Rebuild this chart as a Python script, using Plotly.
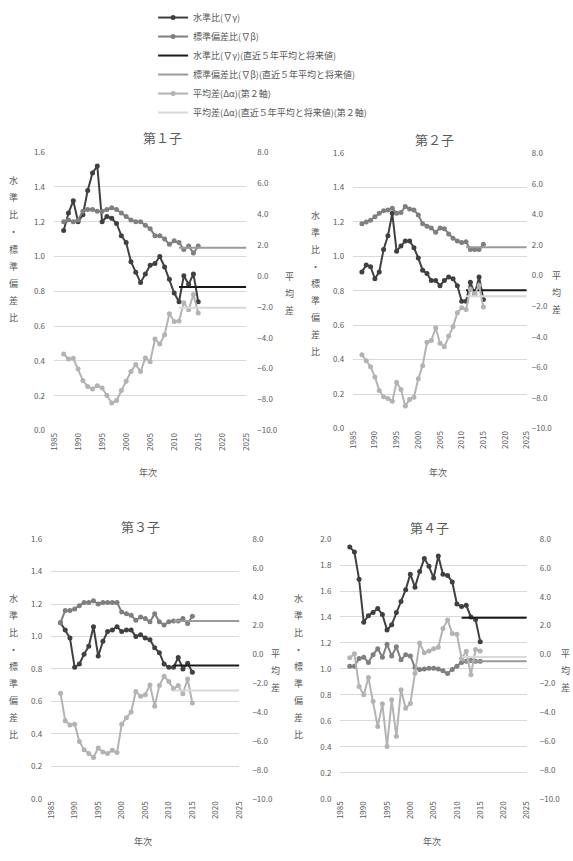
import plotly.graph_objects as go

# ---------------- data ----------------
years = [1987, 1988, 1989, 1990, 1991, 1992, 1993, 1994, 1995, 1996,
         1997, 1998, 1999, 2000, 2001, 2002, 2003, 2004, 2005, 2006,
         2007, 2008, 2009, 2010, 2011, 2012, 2013, 2014, 2015]
recent_years = [2011, 2025]

titles = ["第１子", "第２子", "第３子", "第４子"]

# 第1子
level_1 = [1.15, 1.25, 1.32, 1.20, 1.24, 1.38, 1.48, 1.52, 1.20, 1.23,
           1.22, 1.19, 1.12, 1.08, 0.97, 0.91, 0.85, 0.90, 0.95, 0.96,
           1.00, 0.94, 0.87, 0.79, 0.74, 0.89, 0.84, 0.90, 0.74]
sd_1 = [1.20, 1.21, 1.20, 1.21, 1.26, 1.27, 1.27, 1.26, 1.26, 1.27,
        1.28, 1.27, 1.25, 1.23, 1.21, 1.20, 1.20, 1.18, 1.16, 1.12,
        1.12, 1.10, 1.07, 1.09, 1.08, 1.04, 1.06, 1.02, 1.06]
mean_1 = [-5.05, -5.38, -5.33, -6.02, -6.77, -7.16, -7.31, -7.10, -7.25, -7.74,
          -8.22, -8.06, -7.42, -6.82, -6.19, -5.74, -6.19, -5.31, -5.55, -4.09,
          -4.41, -3.81, -2.45, -2.95, -2.92, -1.74, -2.20, -1.20, -2.40]
recent_1 = {"level": 0.825, "sd": 1.05, "mean": -2.06}

# 第2子
level_2 = [0.91, 0.95, 0.94, 0.87, 0.91, 1.04, 1.12, 1.25, 1.03, 1.06,
           1.09, 1.09, 1.05, 0.99, 0.92, 0.90, 0.86, 0.86, 0.83, 0.86,
           0.88, 0.87, 0.83, 0.74, 0.74, 0.85, 0.78, 0.88, 0.75]
sd_2 = [1.19, 1.20, 1.21, 1.23, 1.25, 1.265, 1.27, 1.28, 1.25, 1.255,
        1.29, 1.275, 1.27, 1.24, 1.19, 1.175, 1.165, 1.14, 1.165, 1.16,
        1.13, 1.105, 1.09, 1.08, 1.085, 1.04, 1.04, 1.04, 1.07]
mean_2 = [-5.18, -5.57, -5.96, -6.63, -7.51, -7.92, -8.03, -8.21, -6.97, -7.45,
          -8.53, -8.10, -7.95, -6.74, -5.89, -4.36, -4.25, -3.41, -4.42, -4.66,
          -3.95, -3.34, -2.43, -2.11, -2.22, -0.90, -1.20, -0.65, -2.05]
recent_2 = {"level": 0.804, "sd": 1.053, "mean": -1.35}

# 第3子
level_3 = [1.085, 1.04, 0.99, 0.81, 0.83, 0.89, 0.94, 1.06, 0.88, 0.97,
           1.03, 1.04, 1.06, 1.03, 1.04, 1.04, 1.00, 1.01, 0.99, 0.98,
           0.93, 0.90, 0.83, 0.81, 0.81, 0.87, 0.80, 0.835, 0.78]
sd_3 = [1.085, 1.16, 1.16, 1.17, 1.19, 1.21, 1.21, 1.22, 1.20, 1.21,
        1.21, 1.21, 1.21, 1.15, 1.14, 1.13, 1.10, 1.12, 1.11, 1.09,
        1.14, 1.09, 1.07, 1.09, 1.095, 1.095, 1.11, 1.08, 1.125]
mean_3 = [-2.68, -4.60, -4.88, -4.83, -6.03, -6.60, -6.87, -7.14, -6.49, -6.76,
          -6.87, -6.64, -6.80, -4.83, -4.38, -3.99, -2.56, -2.90, -2.79, -2.11,
          -3.58, -2.15, -1.50, -1.88, -2.38, -2.15, -2.72, -1.70, -3.36]
recent_3 = {"level": 0.821, "sd": 1.095, "mean": -2.49}

# 第4子
level_4 = [1.94, 1.90, 1.69, 1.36, 1.41, 1.435, 1.465, 1.42, 1.30, 1.34,
           1.435, 1.52, 1.61, 1.73, 1.63, 1.75, 1.85, 1.79, 1.70, 1.87,
           1.73, 1.72, 1.67, 1.50, 1.48, 1.49, 1.40, 1.38, 1.21]
sd_4 = [1.02, 1.02, 1.08, 1.09, 1.05, 1.11, 1.155, 1.09, 1.19, 1.10,
        1.17, 1.07, 1.11, 1.10, 1.01, 0.995, 1.00, 1.005, 1.005, 1.00,
        0.985, 0.965, 0.995, 1.02, 1.05, 1.06, 1.065, 1.06, 1.06]
mean_4 = [-0.22, 0.05, -2.22, -2.79, -1.60, -3.24, -5.00, -3.42, -6.37, -3.13,
          -5.67, -2.45, -3.72, -3.40, -1.30, 0.80, 0.12, 0.25, 0.40, 0.50,
          1.80, 2.40, 1.45, 1.40, -0.28, 0.23, -1.40, 0.34, 0.25]
recent_4 = {"level": 1.394, "sd": 1.059, "mean": -0.18}

left_ranges = [[0, 1.6], [0, 1.6], [0, 1.6], [0, 2.0]]
right_range = [-10, 8]

names = ["水準比(∇γ)", "標準偏差比(∇β)",
         "水準比(∇γ)(直近５年平均と将来値)", "標準偏差比(∇β)(直近５年平均と将来値)",
         "平均差(Δα)(第２軸)", "平均差(Δα)(直近５年平均と将来値)(第２軸)"]

panels = [
    (level_1, sd_1, mean_1, recent_1),
    (level_2, sd_2, mean_2, recent_2),
    (level_3, sd_3, mean_3, recent_3),
    (level_4, sd_4, mean_4, recent_4),
]

# ---------------- styling / layout ----------------
W, H = 573, 861
FONT = "Noto Sans CJK JP"
C_LEVEL = "#404040"
C_SD = "#7f7f7f"
C_LEVEL_R = "#1a1a1a"
C_SD_R = "#9a9a9a"
C_MEAN = "#b3b3b3"
C_MEAN_R = "#d9d9d9"
TXT = "#595959"
GRID = "#d9d9d9"

# plot-area pixel boxes: (left, right, top, bottom)
boxes = [(49, 245, 148, 430), (354, 531, 149, 428),
         (46, 238, 540, 803), (341, 531, 540, 803)]
right_standoff = [10, 4, 12, 12]


def fx(p):
    return p / W


def fy(p):
    return 1 - p / H


fig = go.Figure()

for i, (lvl, sd, mn, rec) in enumerate(panels):
    xa = "x" if i == 0 else f"x{i+1}"
    yl = "y" if i == 0 else f"y{2*i+1}"
    yr = f"y{2*i+2}"
    show = (i == 0)
    mk = dict(size=5)
    fig.add_trace(go.Scatter(x=years, y=lvl, mode="lines+markers", name=names[0],
                             line=dict(color=C_LEVEL, width=2), marker=dict(color=C_LEVEL, **mk),
                             xaxis=xa, yaxis=yl, showlegend=show, legendrank=1))
    fig.add_trace(go.Scatter(x=years, y=sd, mode="lines+markers", name=names[1],
                             line=dict(color=C_SD, width=2), marker=dict(color=C_SD, **mk),
                             xaxis=xa, yaxis=yl, showlegend=show, legendrank=2))
    fig.add_trace(go.Scatter(x=recent_years, y=[rec["level"]] * 2, mode="lines", name=names[2],
                             line=dict(color=C_LEVEL_R, width=2),
                             xaxis=xa, yaxis=yl, showlegend=show, legendrank=3))
    fig.add_trace(go.Scatter(x=recent_years, y=[rec["sd"]] * 2, mode="lines", name=names[3],
                             line=dict(color=C_SD_R, width=2),
                             xaxis=xa, yaxis=yl, showlegend=show, legendrank=4))
    fig.add_trace(go.Scatter(x=years, y=mn, mode="lines+markers", name=names[4],
                             line=dict(color=C_MEAN, width=2), marker=dict(color=C_MEAN, **mk),
                             xaxis=xa, yaxis=yr, showlegend=show, legendrank=5))
    fig.add_trace(go.Scatter(x=recent_years, y=[rec["mean"]] * 2, mode="lines", name=names[5],
                             line=dict(color=C_MEAN_R, width=2),
                             xaxis=xa, yaxis=yr, showlegend=show, legendrank=6))

layout = dict(
    width=W, height=H, margin=dict(l=0, r=0, t=0, b=0),
    paper_bgcolor="white", plot_bgcolor="white",
    font=dict(family=FONT, color=TXT, size=8),
    legend=dict(x=fx(150), y=fy(-3), xanchor="left", yanchor="top",
                font=dict(size=9, color=TXT), itemwidth=30,
                bgcolor="rgba(0,0,0,0)", tracegroupgap=0),
)

annotations = []
for i, (l, r, t, b) in enumerate(boxes):
    xk = "xaxis" if i == 0 else f"xaxis{i+1}"
    ylk = "yaxis" if i == 0 else f"yaxis{2*i+1}"
    yrk = f"yaxis{2*i+2}"
    yl_ref = "y" if i == 0 else f"y{2*i+1}"
    x_ref = "x" if i == 0 else f"x{i+1}"
    layout[xk] = dict(domain=[fx(l), fx(r)], range=[1985, 2025], tick0=1985, dtick=5,
                      tickangle=-90, showgrid=False, zeroline=False, showline=False,
                      ticks="", tickfont=dict(size=8, color=TXT), anchor=yl_ref)
    lr = left_ranges[i]
    layout[ylk] = dict(domain=[fy(b), fy(t)], range=lr, tick0=0, dtick=0.2,
                       tickformat=".1f", showgrid=True, gridcolor=GRID, gridwidth=1,
                       zeroline=False, showline=False, ticks="", ticklabelstandoff=8,
                       tickfont=dict(size=8, color=TXT), anchor=x_ref)
    layout[yrk] = dict(domain=[fy(b), fy(t)], range=right_range, tick0=-10, dtick=2,
                       tickformat=".1f", showgrid=False, zeroline=False, showline=False,
                       ticks="", side="right", overlaying=yl_ref, anchor=x_ref,
                       ticklabelstandoff=right_standoff[i],
                       tickfont=dict(size=8, color=TXT))

# titles
title_pos = [(160, 133), (437, 135), (137, 527), (432, 528)]
for (tx, ty), txt in zip(title_pos, titles):
    annotations.append(dict(x=fx(tx), y=fy(ty), xref="paper", yref="paper", text=txt,
                            showarrow=False, xanchor="center", yanchor="middle",
                            font=dict(size=13, color=TXT)))

# x-axis titles
for (tx, ty) in [(145, 473), (440, 473), (140, 846), (434, 846)]:
    annotations.append(dict(x=fx(tx), y=fy(ty), xref="paper", yref="paper", text="年次",
                            showarrow=False, xanchor="center", yanchor="middle",
                            font=dict(size=9, color=TXT)))

# vertical (stacked) axis titles
left_title = ["水", "準", "比", "・", "標", "準", "偏", "差", "比"]
right_title = ["平", "均", "差"]
left_pos = [(8, 177), (316, 212), (8, 600), (298, 600)]
right_pos = [(289, 274), (561, 273), (275, 656), (570, 656)]
step = 17.3
for (lx, ly) in left_pos:
    for k, ch in enumerate(left_title):
        annotations.append(dict(x=fx(lx), y=fy(ly + k * step), xref="paper", yref="paper",
                                text=ch, showarrow=False, xanchor="center", yanchor="middle",
                                font=dict(size=9, color=TXT)))
for (rx, ry) in right_pos:
    for k, ch in enumerate(right_title):
        annotations.append(dict(x=fx(rx), y=fy(ry + k * step), xref="paper", yref="paper",
                                text=ch, showarrow=False, xanchor="center", yanchor="middle",
                                font=dict(size=9, color=TXT)))

layout["annotations"] = annotations
fig.update_layout(**layout)

fig.write_html("out.html")
